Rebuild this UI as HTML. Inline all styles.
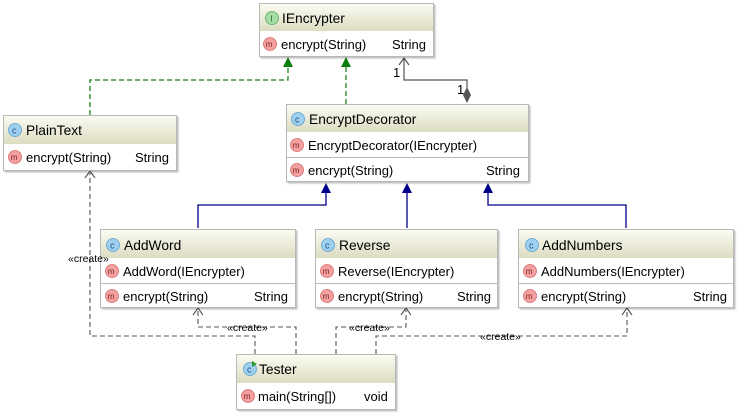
<!DOCTYPE html>
<html><head><meta charset="utf-8"><style>
html,body{margin:0;padding:0;background:#fff;}
svg{display:block;font-family:"Liberation Sans","DejaVu Sans",sans-serif;}
.t{font-size:13.8px;fill:#000}
.m{font-size:13px;fill:#000}
.s{font-size:10.5px;fill:#000}
</style></head><body>
<svg width="737" height="412" viewBox="0 0 737 412" xmlns="http://www.w3.org/2000/svg">
<defs>
<linearGradient id="hg" x1="0" y1="0" x2="0" y2="1"><stop offset="0" stop-color="#fbfbf2"/><stop offset="1" stop-color="#dcdcc2"/></linearGradient>
<filter id="sh" x="-5%" y="-5%" width="115%" height="120%"><feDropShadow dx="1.5" dy="1.5" stdDeviation="0.8" flood-color="#000" flood-opacity="0.25"/></filter>
<g id="ci"><circle r="6.5" fill="#9fd0ef" stroke="#5a9fcf" stroke-width="0.8"/><text x="-3" y="3.5" font-size="9" fill="#1f4f7f">c</text></g>
<g id="ii"><circle r="6.5" fill="#a4dca4" stroke="#5aa75a" stroke-width="0.8"/><text x="-1.8" y="3.5" font-size="8" fill="#1f5f1f">I</text></g>
<g id="mi"><circle r="6.5" fill="#f4a0a0" stroke="#d46a6a" stroke-width="0.8"/><text x="-4.3" y="3" font-size="8" fill="#7a1f1f">m</text></g>
</defs>

<g fill="none" stroke="#0a7d0a" stroke-width="1.2" stroke-dasharray="5,3">
<path d="M90 115 V80 H288 V66"/>
<path d="M346 104 V66"/>
</g>
<polygon points="288,57 283,67 293,67" fill="#0a7d0a"/>
<polygon points="346,57 341,67 351,67" fill="#0a7d0a"/>

<g fill="none" stroke="#555" stroke-width="1.2">
<path d="M404 58 V80 H467 V88"/>
<path d="M399 65 L404 58 L409 65"/>
</g>
<polygon points="467,87 471,95 467,103 463,95" fill="#555"/>
<text x="393" y="77" class="m">1</text>
<text x="457" y="94" class="m">1</text>

<g fill="none" stroke="#00008b" stroke-width="1.3">
<path d="M198 228 V205 H326 V192"/>
<path d="M407 228 V192"/>
<path d="M626 228 V205 H488 V192"/>
</g>
<polygon points="326,183 321,193 331,193" fill="#00008b"/>
<polygon points="407,183 402,193 412,193" fill="#00008b"/>
<polygon points="488,183 483,193 493,193" fill="#00008b"/>

<g fill="none" stroke="#555" stroke-width="1.1" stroke-dasharray="5,3">
<path d="M255 354 V336 H90 V173"/>
<path d="M296 354 V327 H198 V310"/>
<path d="M336 354 V327 H406 V310"/>
<path d="M376 354 V336 H627 V310"/>
</g>
<g fill="none" stroke="#555" stroke-width="1.1">
<path d="M85 178 L90 171 L95 178"/>
<path d="M193 315 L198 308 L203 315"/>
<path d="M401 315 L406 308 L411 315"/>
<path d="M622 315 L627 308 L632 315"/>
</g>

<g filter="url(#sh)"><rect x="259.5" y="3.5" width="174" height="53" fill="#fff" stroke="#b8b8b8"/></g>
<rect x="260" y="4" width="173" height="27" fill="url(#hg)"/>
<use href="#ii" x="272" y="18"/><text x="282" y="23" class="t">IEncrypter</text>
<use href="#mi" x="270" y="44"/><text x="281" y="49" class="m">encrypt(String)</text><text x="392" y="49" class="m">String</text>

<g filter="url(#sh)"><rect x="3.5" y="115.5" width="173" height="55" fill="#fff" stroke="#b8b8b8"/></g>
<rect x="4" y="116" width="172" height="28" fill="url(#hg)"/>
<use href="#ci" x="15" y="130"/><text x="26" y="135" class="t">PlainText</text>
<use href="#mi" x="15" y="157"/><text x="26" y="162" class="m">encrypt(String)</text><text x="135" y="162" class="m">String</text>

<g filter="url(#sh)"><rect x="286.5" y="104.5" width="242" height="77" fill="#fff" stroke="#b8b8b8"/></g>
<rect x="287" y="105" width="241" height="27" fill="url(#hg)"/>
<use href="#ci" x="298" y="119"/><text x="309" y="124" class="t">EncryptDecorator</text>
<use href="#mi" x="297" y="145"/><text x="308" y="150" class="m">EncryptDecorator(IEncrypter)</text>
<line x1="287" y1="157.5" x2="528" y2="157.5" stroke="#b8b8b8"/>
<use href="#mi" x="297" y="170"/><text x="308" y="175" class="m">encrypt(String)</text><text x="486" y="175" class="m">String</text>

<g filter="url(#sh)"><rect x="100.5" y="229.5" width="195" height="78" fill="#fff" stroke="#b8b8b8"/></g>
<rect x="101" y="230" width="194" height="28" fill="url(#hg)"/>
<use href="#ci" x="113" y="245"/><text x="124" y="250" class="t">AddWord</text>
<use href="#mi" x="112" y="271"/><text x="123" y="276" class="m">AddWord(IEncrypter)</text>
<line x1="101" y1="283.5" x2="295" y2="283.5" stroke="#b8b8b8"/>
<use href="#mi" x="112" y="296"/><text x="123" y="301" class="m">encrypt(String)</text><text x="254" y="301" class="m">String</text>

<g filter="url(#sh)"><rect x="315.5" y="229.5" width="182" height="78" fill="#fff" stroke="#b8b8b8"/></g>
<rect x="316" y="230" width="181" height="28" fill="url(#hg)"/>
<use href="#ci" x="328" y="245"/><text x="339" y="250" class="t">Reverse</text>
<use href="#mi" x="327" y="271"/><text x="338" y="276" class="m">Reverse(IEncrypter)</text>
<line x1="316" y1="283.5" x2="497" y2="283.5" stroke="#b8b8b8"/>
<use href="#mi" x="327" y="296"/><text x="338" y="301" class="m">encrypt(String)</text><text x="457" y="301" class="m">String</text>

<g filter="url(#sh)"><rect x="518.5" y="229.5" width="215" height="78" fill="#fff" stroke="#b8b8b8"/></g>
<rect x="519" y="230" width="214" height="28" fill="url(#hg)"/>
<use href="#ci" x="532" y="245"/><text x="542" y="250" class="t">AddNumbers</text>
<use href="#mi" x="530" y="271"/><text x="541" y="276" class="m">AddNumbers(IEncrypter)</text>
<line x1="519" y1="283.5" x2="733" y2="283.5" stroke="#b8b8b8"/>
<use href="#mi" x="530" y="296"/><text x="541" y="301" class="m">encrypt(String)</text><text x="693" y="301" class="m">String</text>

<g filter="url(#sh)"><rect x="236.5" y="354.5" width="159" height="55" fill="#fff" stroke="#b8b8b8"/></g>
<rect x="237" y="355" width="158" height="28" fill="url(#hg)"/>
<use href="#ci" x="250" y="369"/><polygon points="252,361 257,364 252,367" fill="#2a9a2a"/><text x="259" y="374" class="t">Tester</text>
<use href="#mi" x="248" y="396"/><text x="258" y="401" class="m">main(String[])</text><text x="364" y="401" class="m">void</text>

<g class="s">
<text x="68" y="262">«create»</text>
<text x="227" y="331">«create»</text>
<text x="349" y="331">«create»</text>
<text x="480" y="340">«create»</text>
</g>
</svg>
</body></html>
